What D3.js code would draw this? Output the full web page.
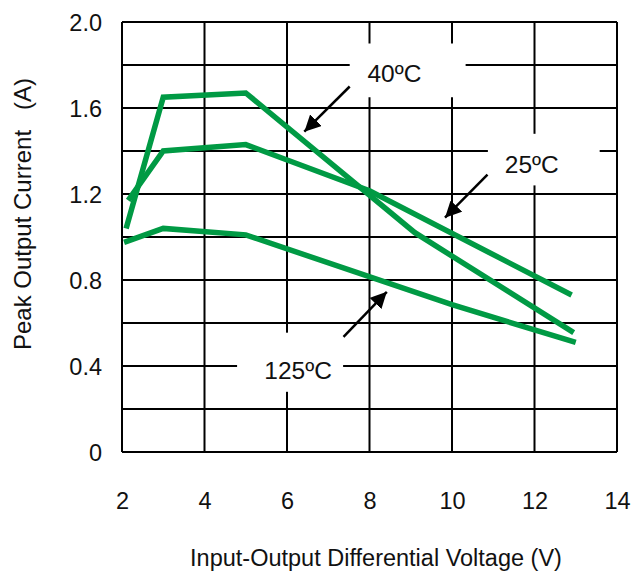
<!DOCTYPE html>
<html>
<head>
<meta charset="utf-8">
<script src="https://cdn.jsdelivr.net/npm/d3@7"></script>
<style>
  body { margin: 0; background: #fff; }
  text { font-family: "Liberation Sans", Arial, sans-serif; fill: #111; }
</style>
</head>
<body>
<div id="chart"></div>
<script>
// chart values
const xTicks = [2, 4, 6, 8, 10, 12, 14];
const yTicks = [0, 0.4, 0.8, 1.2, 1.6, 2.0];
const yGrid = d3.range(0, 2.01, 0.2);

const v40 = [[2.1, 1.04], [3.0, 1.65], [5.0, 1.67], [9.1, 1.02], [12.95, 0.555]];
const v25 = [[2.15, 1.17], [3.0, 1.40], [5.0, 1.43], [8.0, 1.215], [12.9, 0.73]];
const v125 = [[2.05, 0.975], [3.0, 1.04], [5.0, 1.01], [10.0, 0.685], [13.0, 0.51]];

// label boxes: [x0, x1, y0, y1] in data units, text, arrow tail and tip
const labels = [
  { text: "40ºC", box: [7.52, 10.33, 1.65, 1.90], tx: 7.95, ty: 1.72, from: [7.52, 1.70], to: [6.42, 1.49] },
  { text: "25ºC", box: [10.87, 13.58, 1.24, 1.48], tx: 11.28, ty: 1.30, from: [10.86, 1.29], to: [9.83, 1.09] },
  { text: "125ºC", box: [4.79, 7.36, 0.28, 0.555], tx: 5.45, ty: 0.34, from: [7.37, 0.536], to: [8.42, 0.745] }
];

const W = 641, H = 572;
const x = d3.scaleLinear().domain([2, 14]).range([122, 617]);
const y = d3.scaleLinear().domain([0, 2]).range([452, 22]);
const green = "#009a44";

const svg = d3.select("#chart").append("svg")
  .attr("width", W).attr("height", H);

svg.append("defs").append("marker")
  .attr("id", "head")
  .attr("viewBox", "0 0 10 10")
  .attr("refX", 10).attr("refY", 5)
  .attr("markerWidth", 6.5).attr("markerHeight", 6.5)
  .attr("markerUnits", "strokeWidth")
  .attr("orient", "auto")
  .append("path").attr("d", "M0,0 L10,5 L0,10 z").attr("fill", "#000");

// grid
const grid = svg.append("g");
grid.selectAll(".vl").data(xTicks).enter().append("line")
  .attr("x1", d => x(d)).attr("x2", d => x(d))
  .attr("y1", y(0)).attr("y2", y(2))
  .attr("stroke", "#000").attr("stroke-width", 2);
grid.selectAll(".hl").data(yGrid).enter().append("line")
  .attr("x1", x(2)).attr("x2", x(14))
  .attr("y1", d => y(d)).attr("y2", d => y(d))
  .attr("stroke", "#000").attr("stroke-width", 2);

// axes (labels only)
const xAxis = svg.append("g")
  .attr("transform", `translate(0, ${y(0)})`)
  .call(d3.axisBottom(x).tickValues(xTicks).tickSize(0).tickPadding(40).tickFormat(d3.format("d")));
const yAxis = svg.append("g")
  .attr("transform", `translate(${x(2)}, 0)`)
  .call(d3.axisLeft(y).tickValues(yTicks).tickSize(0).tickPadding(20)
    .tickFormat(d => d === 0 ? "0" : d3.format(".1f")(d)));
[xAxis, yAxis].forEach(a => {
  a.select(".domain").remove();
  a.selectAll("text").attr("font-size", 23.5).attr("font-family", "Liberation Sans, Arial, sans-serif").attr("fill", "#111");
});
yAxis.selectAll("text").attr("dy", "0.38em");

// white label boxes and texts
labels.forEach(l => {
  svg.append("rect")
    .attr("x", x(l.box[0])).attr("y", y(l.box[3]))
    .attr("width", x(l.box[1]) - x(l.box[0]))
    .attr("height", y(l.box[2]) - y(l.box[3]))
    .attr("fill", "#fff");
  svg.append("text")
    .attr("x", x(l.tx)).attr("y", y(l.ty))
    .attr("font-size", 24.5)
    .text(l.text);
  svg.append("line")
    .attr("x1", x(l.from[0])).attr("y1", y(l.from[1]))
    .attr("x2", x(l.to[0])).attr("y2", y(l.to[1]))
    .attr("stroke", "#000").attr("stroke-width", 2.5)
    .attr("marker-end", "url(#head)");
});

// curves
const line = d3.line().x(d => x(d[0])).y(d => y(d[1]));
[v40, v25, v125].forEach(s => {
  svg.append("path")
    .attr("d", line(s))
    .attr("fill", "none")
    .attr("stroke", green)
    .attr("stroke-width", 5.5)
    .attr("stroke-linejoin", "miter");
});

// axis titles
svg.append("text")
  .attr("x", 376).attr("y", 566)
  .attr("text-anchor", "middle")
  .attr("font-size", 23.5)
  .text("Input-Output Differential Voltage (V)");

svg.append("text")
  .attr("transform", "translate(31, 214) rotate(-90)")
  .attr("text-anchor", "middle")
  .attr("font-size", 24)
  .text("Peak Output Current\u00a0\u00a0\u00a0(A)");
</script>
</body>
</html>
